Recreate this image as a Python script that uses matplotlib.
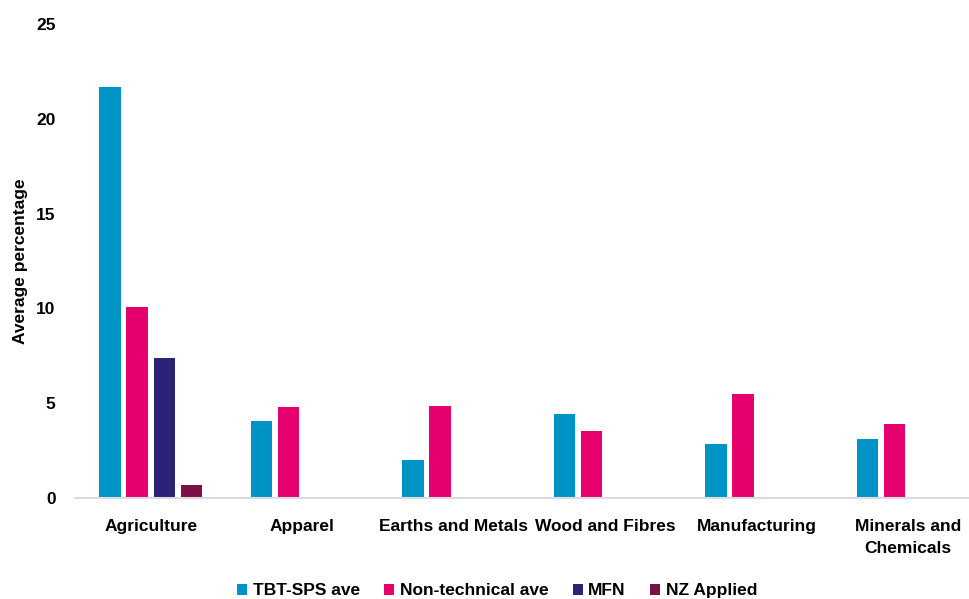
import matplotlib.pyplot as plt
import numpy as np
from matplotlib import font_manager

categories = ["Agriculture", "Apparel", "Earths and Metals", "Wood and Fibres",
              "Manufacturing", "Minerals and\nChemicals"]
tbt_sps = [21.7, 4.08, 1.99, 4.42, 2.84, 3.09]
non_technical = [10.1, 4.81, 4.86, 3.56, 5.51, 3.9]
mfn = [7.4, 0, 0, 0, 0, 0]
nz_applied = [0.7, 0, 0, 0, 0, 0]
series_names = ["TBT-SPS ave", "Non-technical ave", "MFN", "NZ Applied"]
colors = ["#0094c6", "#e6006e", "#2b2377", "#7b1145"]

# pick a narrow bold family if there is one
names = {f.name for f in font_manager.fontManager.ttflist}
family = "Liberation Sans Narrow" if "Liberation Sans Narrow" in names else "Liberation Sans"
plt.rcParams["font.family"] = family
plt.rcParams["font.weight"] = "bold"

fig = plt.figure(figsize=(9.69, 5.99), dpi=100)
ax = fig.add_axes([75 / 969, 101 / 599, 909 / 969, 474 / 599])

x = np.arange(len(categories))
width = 0.1426
pitch = 0.18
all_series = [tbt_sps, non_technical, mfn, nz_applied]
for i, (vals, name, c) in enumerate(zip(all_series, series_names, colors)):
    vals = np.array(vals, dtype=float)
    show = vals > 0
    ax.bar(x[show] + (i - 1.5) * pitch, vals[show], width, color=c, label=name)

ax.set_xlim(-0.5, len(categories) - 0.5)
ax.set_ylim(0, 25)
ax.set_yticks([0, 5, 10, 15, 20, 25])
ax.set_xticks(x)
ax.set_xticklabels(categories, fontsize=12.5, fontweight="bold", linespacing=1.6)
ax.tick_params(axis="both", length=0, labelsize=12.5)
ax.tick_params(axis="x", pad=15)
ax.tick_params(axis="y", pad=14)
for s in ["top", "right", "left"]:
    ax.spines[s].set_visible(False)
ax.spines["bottom"].set_color("#d9dce1")
ax.spines["bottom"].set_linewidth(1.5)

ax.set_ylabel("Average percentage", fontsize=12.5, fontweight="bold", labelpad=6)

fig.legend(loc="lower center", bbox_to_anchor=(497 / 969, -0.025), ncol=4,
           frameon=False, fontsize=12.5, handlelength=0.6, handleheight=0.6,
           handletextpad=0.3, columnspacing=1.4)

fig.savefig("out.png", dpi=100)
